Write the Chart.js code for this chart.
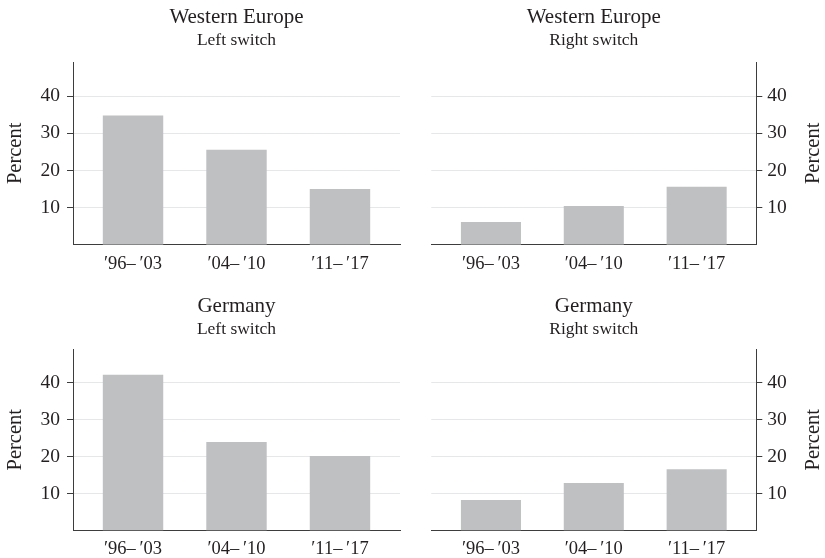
<!DOCTYPE html>
<html lang="en">
<head>
<meta charset="UTF-8">
<title>Left and right switches by period</title>
<script src="https://cdn.jsdelivr.net/npm/chart.js@4.4.1/dist/chart.umd.min.js"></script>
<style>
    body { margin: 0; background: #fff; }
    .panel { position: absolute; }
</style>
</head>
<body>
<div class="panel" style="left:0;top:0;width:412px;height:280px"><canvas id="weLeft" width="412" height="280"></canvas></div>
<div class="panel" style="left:412px;top:0;width:413px;height:280px"><canvas id="weRight" width="413" height="280"></canvas></div>
<div class="panel" style="left:0;top:280px;width:412px;height:278px"><canvas id="deLeft" width="412" height="278"></canvas></div>
<div class="panel" style="left:412px;top:280px;width:413px;height:278px"><canvas id="deRight" width="413" height="278"></canvas></div>

<script>
// data (percent)
const periods = ['\u203296\u2013\u2009\u203203', '\u203204\u2013\u2009\u203210', '\u203211\u2013\u2009\u203217'];
const yTicks = [10, 20, 30, 40];
const yTitle = 'Percent';

const westEuropeLeft = [34.8, 25.6, 15.0];
const westEuropeRight = [6.1, 10.4, 15.6];
const germanyLeft = [42.2, 24.0, 20.2];
const germanyRight = [8.3, 12.9, 16.6];

const FONT = '"Liberation Serif", "Times New Roman", serif';
const TEXT = '#231f20';
const AXIS = '#3d3d3d';
const GRID = '#e6e7e8';
const BAR = '#bfc0c2';

// rotated y title, reads bottom to top on both sides
const sideTitle = {
    id: 'sideTitle',
    afterDraw(chart, args, opts) {
        const { ctx, chartArea } = chart;
        ctx.save();
        ctx.font = '20.5px ' + FONT;
        ctx.fillStyle = TEXT;
        ctx.textAlign = 'center';
        ctx.textBaseline = 'middle';
        ctx.translate(opts.x, (chartArea.top + chartArea.bottom) / 2);
        ctx.rotate(-Math.PI / 2);
        ctx.fillText(opts.text, 0, 0);
        ctx.restore();
    }
};

const rows = {
    top: { titlePad: 5.2, subPad: 10.6, xHeight: 35.3 },
    bottom: { titlePad: 13.5, subPad: 9.3, xHeight: 27.5 }
};

function makePanel(id, values, title, subtitle, side, row) {
    const r = rows[row];
    const left = side === 'left';
    new Chart(document.getElementById(id), {
        type: 'bar',
        data: {
            datasets: [{
                data: values.map((v, i) => ({ x: i + 1, y: v })),
                backgroundColor: BAR,
                borderWidth: 0,
                categoryPercentage: 1,
                barPercentage: 0.584
            }]
        },
        options: {
            responsive: false,
            animation: false,
            layout: { padding: left ? { left: 0, right: 12 } : { left: 19.3, right: 0 } },
            plugins: {
                legend: { display: false },
                tooltip: { enabled: false },
                title: {
                    display: true, text: title, fullSize: false, color: TEXT,
                    font: { family: FONT, size: 21, weight: 'normal', lineHeight: 1.2 },
                    padding: { top: r.titlePad, bottom: 0 }
                },
                subtitle: {
                    display: true, text: subtitle, fullSize: false, color: TEXT,
                    font: { family: FONT, size: 17.5, weight: 'normal', lineHeight: 1.2 },
                    padding: { top: 0, bottom: r.subPad }
                },
                sideTitle: { text: yTitle, x: left ? 16 : 402 }
            },
            scales: {
                x: {
                    type: 'linear',
                    min: 0.42, max: 3.58,
                    offset: false,
                    grid: { display: false, drawTicks: false },
                    border: { display: true, color: AXIS, width: 1 },
                    afterBuildTicks: s => { s.ticks = periods.map((p, i) => ({ value: i + 1 })); },
                    afterFit: s => { s.height = r.xHeight; },
                    ticks: {
                        autoSkip: false, maxRotation: 0, padding: 8, color: TEXT,
                        font: { family: FONT, size: 18.5 },
                        callback: v => periods[Math.round(v) - 1]
                    }
                },
                y: {
                    position: side,
                    min: 0, max: 49.2,
                    grid: { color: GRID, lineWidth: 1, drawTicks: true, tickLength: 6, tickColor: AXIS },
                    border: { display: true, color: AXIS, width: 1 },
                    afterBuildTicks: s => { s.ticks = yTicks.map(v => ({ value: v })); },
                    afterFit: s => { s.width = left ? 73 : 68.7; },
                    ticks: {
                        padding: left ? 7 : 5, color: TEXT,
                        font: { family: FONT, size: 19.5 }
                    }
                }
            }
        },
        plugins: [sideTitle]
    });
}

makePanel('weLeft', westEuropeLeft, 'Western Europe', 'Left switch', 'left', 'top');
makePanel('weRight', westEuropeRight, 'Western Europe', 'Right switch', 'right', 'top');
makePanel('deLeft', germanyLeft, 'Germany', 'Left switch', 'left', 'bottom');
makePanel('deRight', germanyRight, 'Germany', 'Right switch', 'right', 'bottom');
</script>
</body>
</html>
